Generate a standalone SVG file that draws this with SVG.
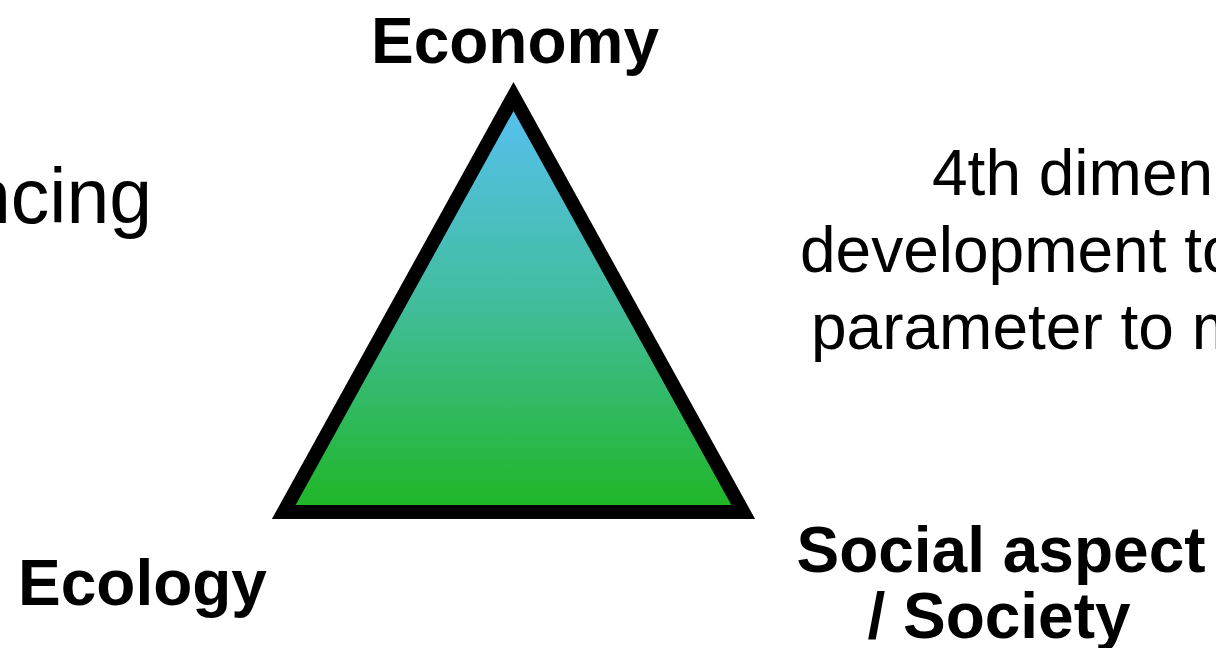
<svg xmlns="http://www.w3.org/2000/svg" width="1216" height="648" viewBox="0 0 1216 648">
  <style>
    .bold { font-family: "Liberation Sans", Arial, sans-serif; font-weight: bold; font-size: 64px; fill: #000; }
    .reg { font-family: "Liberation Sans", Arial, sans-serif; font-size: 64px; fill: #000; }
  </style>
  <defs>
    <linearGradient id="grad" x1="0" y1="0" x2="0" y2="1">
      <stop offset="0" stop-color="#58C0F4"/>
      <stop offset="0.5" stop-color="#41BD9C"/>
      <stop offset="1" stop-color="#1FB624"/>
    </linearGradient>
  </defs>
  <rect x="0" y="0" width="1216" height="648" fill="#fff"/>
  <g id="triangle">
    <polygon points="513.5,96.5 743.25,512 283.75,512" fill="url(#grad)" stroke="#000" stroke-width="14" stroke-linejoin="miter"/>
  </g>
  <g id="economy">
    <text class="bold" x="515" y="63" text-anchor="middle">Economy</text>
  </g>
  <g id="ecology">
    <text class="bold" x="18" y="605">Ecology</text>
  </g>
  <g id="society">
    <text class="bold" x="1001" y="572" text-anchor="middle">Social aspect</text>
    <text class="bold" x="999" y="638" text-anchor="middle">/ Society</text>
  </g>
  <g id="balancing">
    <text class="reg" x="-32" y="223" style="font-size:77px">ncing</text>
  </g>
  <g id="fourth-dimension">
    <text class="reg" x="932" y="195">4th dimen</text>
    <text class="reg" x="800" y="272">development to</text>
    <text class="reg" x="811" y="349">parameter to m</text>
  </g>
</svg>
